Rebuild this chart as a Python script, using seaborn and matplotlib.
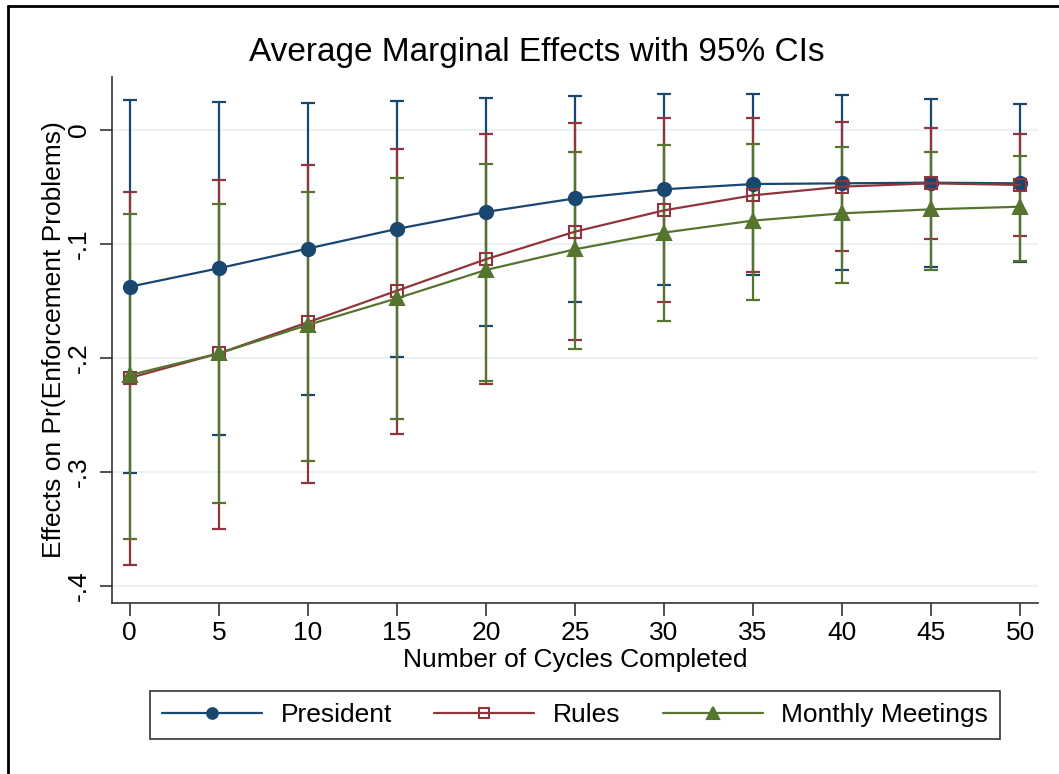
import numpy as np
import pandas as pd
import matplotlib
matplotlib.use('Agg')
import matplotlib.pyplot as plt
import seaborn as sns
from matplotlib.lines import Line2D

sns.set_style('white')
plt.rcParams['font.family'] = ['Liberation Sans', 'DejaVu Sans']
plt.rcParams.update({'text.color': 'black', 'axes.labelcolor': 'black',
                     'xtick.color': 'black', 'ytick.color': 'black'})

# Data
cycles = [0, 5, 10, 15, 20, 25, 30, 35, 40, 45, 50]

president = [-0.1375, -0.1213, -0.1040, -0.0868, -0.0719, -0.0600, -0.0520, -0.0474, -0.0468, -0.0462, -0.0468]
president_lo = [-0.301, -0.2675, -0.2325, -0.1994, -0.1719, -0.151, -0.1363, -0.1275, -0.1228, -0.120, -0.1155]
president_hi = [0.026, 0.0243, 0.024, 0.0254, 0.0278, 0.030, 0.0316, 0.0316, 0.0304, 0.0272, 0.0225]

rules = [-0.2175, -0.196, -0.1687, -0.141, -0.1134, -0.0892, -0.0705, -0.0573, -0.0497, -0.0468, -0.0482]
rules_lo = [-0.382, -0.3497, -0.3096, -0.2664, -0.223, -0.1845, -0.1512, -0.125, -0.1064, -0.0959, -0.0927]
rules_hi = [-0.0547, -0.0436, -0.0307, -0.0164, -0.0035, 0.0058, 0.0102, 0.0102, 0.0067, 0.0015, -0.0038]

meetings = [-0.215, -0.196, -0.171, -0.1477, -0.1228, -0.1047, -0.090, -0.0795, -0.0731, -0.0696, -0.0673]
meetings_lo = [-0.3585, -0.327, -0.2906, -0.2532, -0.2202, -0.1918, -0.168, -0.149, -0.134, -0.1228, -0.115]
meetings_hi = [-0.0734, -0.065, -0.0544, -0.0421, -0.0298, -0.019, -0.0132, -0.012, -0.0149, -0.019, -0.0228]

y_ticks = [0, -0.1, -0.2, -0.3, -0.4]
y_ticklabels = ['0', '-.1', '-.2', '-.3', '-.4']

series = [
    ('President', president, president_lo, president_hi, '#1a476f', 'o'),
    ('Rules', rules, rules_lo, rules_hi, '#90353b', 's'),
    ('Monthly Meetings', meetings, meetings_lo, meetings_hi, '#55752f', '^'),
]

fig = plt.figure(figsize=(10.59, 7.74), dpi=100)
ax = fig.add_axes([112 / 1059, 1 - 603 / 774, (1038 - 112) / 1059, (603 - 77) / 774])

# confidence intervals first (caps)
for name, est, lo, hi, col, mk in series:
    est = np.array(est)
    yerr = [est - np.array(lo), np.array(hi) - est]
    ax.errorbar(cycles, est, yerr=yerr, fmt='none', ecolor=col, elinewidth=1.6,
                capsize=5, capthick=1.6, zorder=2)

# point estimates
for name, est, lo, hi, col, mk in series:
    df = pd.DataFrame({'cycles': cycles, 'effect': est})
    kw = dict(marker=mk, markersize=9.5, markeredgecolor=col, markeredgewidth=1.5)
    if mk == 's':
        kw['markerfacecolor'] = 'none'
        kw['markersize'] = 8.5
    elif mk == '^':
        kw['markersize'] = 10.5
        kw['markerfacecolor'] = col
    else:
        kw['markerfacecolor'] = col
    sns.lineplot(data=df, x='cycles', y='effect', color=col, linewidth=1.6,
                 label=name, ax=ax, zorder=3, errorbar=None, **kw)

ax.set_xlim(-1, 51)
ax.set_ylim(-0.415, 0.0465)
ax.set_xticks(cycles)
ax.set_yticks(y_ticks)
ax.set_yticklabels(y_ticklabels, rotation=90, va='center')
ax.tick_params(axis='both', labelsize=19, direction='out', length=9, width=1.2,
               color='#333333', labelcolor='black', left=True, bottom=True)
ax.tick_params(axis='x', pad=4)
ax.tick_params(axis='y', pad=6)

ax.grid(axis='y', color='#eaf2f3', linewidth=1.5)
ax.grid(axis='x', visible=False)
ax.set_axisbelow(True)
for s in ['top', 'right']:
    ax.spines[s].set_visible(False)
for s in ['left', 'bottom']:
    ax.spines[s].set_color('#333333')
    ax.spines[s].set_linewidth(1.2)

ax.set_xlabel('Number of Cycles Completed', fontsize=19, labelpad=2, color='black')
ax.set_ylabel('Effects on Pr(Enforcement Problems)', fontsize=19, color='black')
ax.yaxis.set_label_coords(-46 / 926, 0.5)
fig.text(537 / 1059, 1 - 52 / 774, 'Average Marginal Effects with 95% CIs',
         fontsize=24, ha='center', va='center', color='black')

leg = ax.legend(loc='center', bbox_to_anchor=(575 / 1059, 1 - 715 / 774),
                bbox_transform=fig.transFigure, ncol=3, fontsize=19, frameon=True,
                fancybox=False, edgecolor='black', handlelength=3.8,
                handletextpad=0.7, columnspacing=1.6, borderpad=0.45,
                markerscale=0.8)
leg.get_frame().set_linewidth(1.2)
for t in leg.get_texts():
    t.set_color('black')

# outer graph region border
fig.add_artist(Line2D([7.5 / 1059, 1], [1 - 6 / 774, 1 - 6 / 774], color='black', lw=2,
                      transform=fig.transFigure))
fig.add_artist(Line2D([7.5 / 1059, 7.5 / 1059], [0, 1 - 6 / 774], color='black', lw=2,
                      transform=fig.transFigure))

fig.savefig('out.png', dpi=100)
